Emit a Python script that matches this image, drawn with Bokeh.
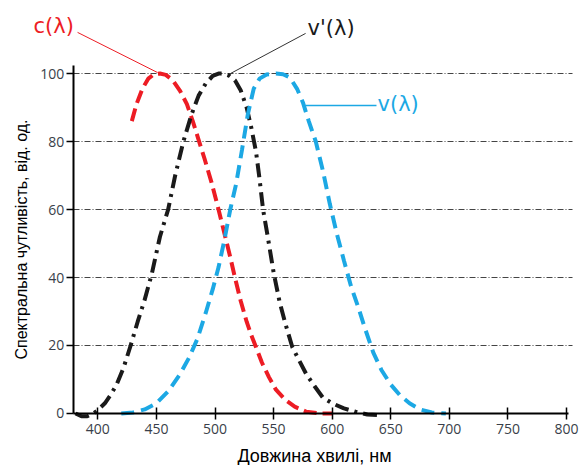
from bokeh.plotting import figure
from bokeh.models import FixedTicker, Label, Arrow, BoxAnnotation
from bokeh.embed import file_html
from bokeh.resources import INLINE

# ---- data ----
c_wl = [429, 433, 438, 443, 448, 453, 458, 464, 470, 476, 481, 486, 491, 497, 503, 508,
        513, 517, 522, 527, 531, 535, 540, 546, 552, 560, 568, 578, 590, 600]
c_val = [86, 91, 95.5, 98.5, 99.8, 100, 99.6, 98, 95, 91, 86, 80.5, 75, 68, 60, 53,
         46, 40, 33, 27, 23, 19.5, 15, 10.7, 7, 4, 2, 0.5, 0, 0]

vs_wl = [381, 386, 391, 396, 400, 406, 411, 416, 422, 428, 434, 440, 446, 453, 460, 466,
         473, 480, 486, 492, 498, 503, 507, 512, 517, 522, 527, 531, 535, 538, 541, 545,
         550, 555, 560, 566, 572, 578, 585, 592, 600, 610, 620, 630, 640]
vs_val = [0, -0.8, -0.8, 0, 1, 3, 5.5, 8.5, 13.5, 20, 27, 33.5, 41, 52, 60, 70,
          80, 88, 93.5, 97, 99.3, 100, 100, 99.4, 98, 95, 90, 84, 77, 69, 60, 52,
          41.5, 33, 26.5, 19.5, 15.5, 11.5, 8, 4.7, 3, 1.5, 0.5, -0.3, -0.5]

v_wl = [420, 430, 440, 450, 460, 470, 478, 485, 492, 498, 503, 508, 513, 518, 523, 528,
        533, 538, 544, 552, 558, 564, 570, 575, 580, 586, 592, 598, 604, 610, 616, 622,
        628, 635, 642, 650, 658, 666, 675, 685, 697]
v_val = [0, 0.3, 1.2, 3, 6.5, 11.5, 16.5, 22, 29.5, 36.5, 43, 51, 60, 67.5, 77.5, 88,
         95.5, 98.5, 99.7, 100, 99.8, 98.8, 95.5, 91.5, 86, 80, 71.5, 61.6, 52.8, 45, 37.5, 31.5,
         25, 18, 12.8, 8.5, 5.3, 3, 1.2, 0.3, 0]

x_ticks = [400, 450, 500, 550, 600, 650, 700, 750, 800]
y_ticks = [0, 20, 40, 60, 80, 100]
grid_levels = [20, 40, 60, 80, 100]

labels = ["c(λ)", "v'(λ)", "v(λ)"]
x_title = "Довжина хвилі, нм"
y_title = "Спектральна чутливість, від. од."

# axis extents (data units)
X_AXIS = (379, 801.5)
Y_AXIS = (0, 102.4)
GRID_SPAN = (379, 805)

RED = "#ED1C24"
BLUE = "#1CA8E4"
BLACK = "#1a1a1a"

p = figure(width=580, height=465, x_range=(321.2, 811.9), y_range=(-15.3, 120.6),
           output_backend="svg", toolbar_location=None,
           min_border_left=5, min_border_right=0, min_border_top=3, min_border_bottom=0)
p.outline_line_color = None
p.background_fill_color = "white"

p.xgrid.visible = False
p.ygrid.ticker = FixedTicker(ticks=grid_levels)
p.ygrid.grid_line_color = "#444444"
p.ygrid.grid_line_width = 1
p.ygrid.grid_line_dash = "6 2 1 2"
try:
    p.ygrid.cross_bounds = GRID_SPAN
except Exception:
    p.add_layout(BoxAnnotation(right=GRID_SPAN[0], fill_color="white", fill_alpha=1,
                               line_color=None, level="underlay"))

p.xaxis.ticker = FixedTicker(ticks=x_ticks)
p.yaxis.ticker = FixedTicker(ticks=y_ticks)
for ax in (p.xaxis[0], p.yaxis[0]):
    ax.axis_line_color = "black"
    ax.axis_line_width = 2
    ax.major_tick_line_color = "black"
    ax.major_tick_line_width = 1.5
    ax.minor_tick_line_color = None
    ax.major_label_text_font = "Open Sans"
    ax.major_label_text_font_size = "14px"
    ax.major_label_text_color = "#3a3f4a"
    ax.axis_label_text_font = "Liberation Sans"
    ax.axis_label_text_font_size = "16px"
    ax.axis_label_text_font_style = "normal"
    ax.axis_label_text_color = "black"

p.xaxis.fixed_location = 0
p.xaxis.bounds = X_AXIS
p.xaxis.major_tick_in = 6
p.xaxis.major_tick_out = 6
p.xaxis.major_label_standoff = 5

p.yaxis.fixed_location = X_AXIS[0]
p.yaxis.bounds = Y_AXIS
p.yaxis.major_tick_in = 0
p.yaxis.major_tick_out = 7
p.yaxis.major_label_standoff = 2
p.yaxis.axis_label = y_title
p.yaxis.axis_label_standoff = 7

# x-axis title, centred under the axis line
p.add_layout(Label(x=584.9, y=-12.4, text=x_title, text_color="black",
                   text_font="Liberation Sans", text_font_size="18px",
                   text_align="center", text_baseline="middle"))

p.line(c_wl, c_val, line_color=RED, line_width=4, line_dash="13 6")
p.line(vs_wl, vs_val, line_color=BLACK, line_width=4, line_dash="14 6 3 6")
p.line(v_wl, v_val, line_color=BLUE, line_width=4, line_dash="13 7")

# leader lines
p.add_layout(Arrow(end=None, x_start=382.7, y_start=112.1, x_end=450.9, y_end=100.3,
                   line_color=RED, line_width=1))
p.add_layout(Arrow(end=None, x_start=513.2, y_start=100.0, x_end=577.3, y_end=111.8,
                   line_color="#333333", line_width=1))
p.add_layout(Arrow(end=None, x_start=577.3, y_start=90.6, x_end=637.8, y_end=90.6,
                   line_color=BLUE, line_width=1.5))

p.add_layout(Label(x=345.1, y=114.1, text=labels[0], text_color=RED,
                   text_font="DejaVu Sans", text_font_size="21px", text_baseline="middle"))
p.add_layout(Label(x=579.0, y=113.5, text=labels[1], text_color=BLACK,
                   text_font="DejaVu Sans", text_font_size="21px", text_baseline="middle"))
p.add_layout(Label(x=638.7, y=90.9, text=labels[2], text_color=BLUE,
                   text_font="DejaVu Sans", text_font_size="21px", text_baseline="middle"))

open("out.html", "w").write(file_html(p, INLINE))
